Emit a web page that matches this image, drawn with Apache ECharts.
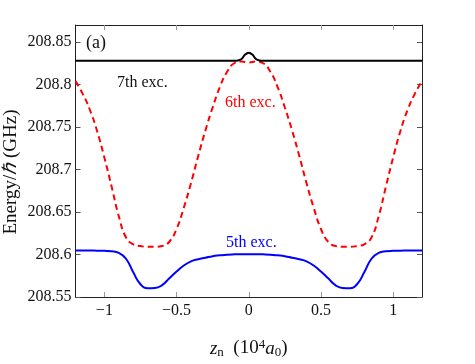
<!DOCTYPE html>
<html>
<head>
<meta charset="utf-8">
<script src="https://cdn.jsdelivr.net/npm/echarts@6/dist/echarts.min.js"></script>
<style>
  html, body { margin: 0; padding: 0; background: #fff; }
  #chart { width: 475px; height: 364px; }
</style>
</head>
<body>
<div id="chart"></div>
<script>
// 横轴 z_n (10^4 a0)
var xs = [-1.2, -1.15, -1.1, -1.05, -1.0, -0.95, -0.9, -0.85, -0.8, -0.75, -0.7, -0.65, -0.6, -0.55, -0.5,
  -0.45, -0.4, -0.35, -0.3, -0.25, -0.2, -0.15, -0.1, -0.05, 0, 0.05, 0.1, 0.15, 0.2, 0.25, 0.3, 0.35,
  0.4, 0.45, 0.5, 0.55, 0.6, 0.65, 0.7, 0.75, 0.8, 0.85, 0.9, 0.95, 1.0, 1.05, 1.1, 1.15, 1.2];

// 6th exc. (红色虚线)
var exc6 = [208.804, 208.789, 208.770, 208.745, 208.714, 208.680, 208.645, 208.620, 208.612, 208.610,
  208.609, 208.609, 208.610, 208.615, 208.630, 208.655, 208.684, 208.716, 208.746, 208.773, 208.797,
  208.815, 208.825, 208.827, 208.826, 208.827, 208.825, 208.815, 208.797, 208.773, 208.746, 208.716,
  208.684, 208.655, 208.630, 208.615, 208.610, 208.609, 208.609, 208.610, 208.612, 208.620, 208.645,
  208.680, 208.714, 208.745, 208.770, 208.789, 208.804];

// 5th exc. (蓝色实线)
var exc5 = [208.6047, 208.6047, 208.6046, 208.6045, 208.6043, 208.6038, 208.602, 208.595, 208.579,
  208.565, 208.5603, 208.5605, 208.564, 208.572, 208.580, 208.587, 208.592, 208.5945, 208.5962, 208.598,
  208.599, 208.5998, 208.6002, 208.6004, 208.6004, 208.6004, 208.6002, 208.5998, 208.599, 208.598,
  208.5962, 208.5945, 208.592, 208.587, 208.580, 208.572, 208.564, 208.5605, 208.5603, 208.565, 208.579,
  208.595, 208.602, 208.6038, 208.6043, 208.6045, 208.6046, 208.6047, 208.6047];

// 7th exc. (黑色实线, 中间有小凸起)
var xs7 = [-1.2, -0.1, -0.075, -0.05, -0.025, 0, 0.025, 0.05, 0.075, 0.1, 1.2];
var exc7 = [208.828, 208.828, 208.8283, 208.830, 208.8352, 208.8375, 208.8352, 208.830, 208.8283, 208.828, 208.828];

// 刻度
var xTicks = [-1, -0.5, 0, 0.5, 1];
var yTicks = [208.55, 208.6, 208.65, 208.7, 208.75, 208.8, 208.85];

function pairs(x, y) {
  var out = [];
  for (var i = 0; i < x.length; i++) out.push([x[i], y[i]]);
  return out;
}

var serif = 'Liberation Serif';
var chart = echarts.init(document.getElementById('chart'));

var baseX = {
  type: 'value', min: -1.2, max: 1.2,
  axisLine: { show: true, onZero: false, lineStyle: { color: '#222', width: 1 } },
  axisTick: { show: true, inside: true, length: 5, customValues: xTicks, lineStyle: { color: '#999' } },
  splitLine: { show: false }
};
var baseY = {
  type: 'value', min: 208.55, max: 208.87,
  axisLine: { show: true, onZero: false, lineStyle: { color: '#222', width: 1 } },
  axisTick: { show: true, inside: true, length: 5, customValues: yTicks, lineStyle: { color: '#555' } },
  splitLine: { show: false }
};

var option = {
  animation: false,
  backgroundColor: '#fff',
  grid: { left: 75.5, right: 53, top: 25, bottom: 65 },
  xAxis: [
    Object.assign({}, baseX, {
      position: 'bottom',
      axisLabel: { customValues: xTicks, color: '#111', fontFamily: serif, fontSize: 16, margin: 6,
        formatter: function (v) { return v < 0 ? '\u2212' + Math.abs(v) : String(v); } },
      name: '{i|z}{sub|n}  {r|(10}{sup|4}{i|a}{sub|0}{r|)}',
      nameLocation: 'middle', nameGap: 41,
      nameTextStyle: {
        fontFamily: serif, fontSize: 19, color: '#111',
        rich: {
          i: { fontFamily: serif, fontSize: 19, fontStyle: 'italic', color: '#111' },
          r: { fontFamily: serif, fontSize: 19, color: '#111' },
          sub: { fontFamily: serif, fontSize: 13, color: '#111', verticalAlign: 'bottom', padding: [8, 0, 0, 0] },
          sup: { fontFamily: serif, fontSize: 13, color: '#111', verticalAlign: 'top', padding: [0, 0, 8, 0] }
        }
      }
    }),
    Object.assign({}, baseX, { position: 'top', axisLabel: { show: false } })
  ],
  yAxis: [
    Object.assign({}, baseY, {
      position: 'left',
      axisLabel: { customValues: yTicks, color: '#111', fontFamily: serif, fontSize: 16, margin: 4,
        formatter: function (v) { return String(parseFloat(v.toFixed(2))); } }
    }),
    Object.assign({}, baseY, { position: 'right', axisLabel: { show: false } })
  ],
  series: [
    {
      name: '7th exc.', type: 'line', data: pairs(xs7, exc7), smooth: 0.4, showSymbol: false,
      lineStyle: { color: '#000', width: 2 }, z: 3
    },
    {
      name: '6th exc.', type: 'line', data: pairs(xs, exc6), smooth: true, showSymbol: false,
      lineStyle: { color: '#ff0000', width: 2, type: [6, 4] }, z: 2
    },
    {
      name: '5th exc.', type: 'line', data: pairs(xs, exc5), smooth: true, showSymbol: false,
      lineStyle: { color: '#0000ff', width: 2 }, z: 2
    }
  ],
  graphic: [
    {
      type: 'text', x: 11, y: 172, rotation: Math.PI / 2,
      style: {
        text: 'Energy/{i|\u210F} (GHz)', fill: '#111', font: '19px "Liberation Serif"',
        align: 'center', verticalAlign: 'middle',
        rich: { i: { fontFamily: serif, fontSize: 19, fontStyle: 'italic', fill: '#111' } }
      }
    },
    { type: 'text', x: 86, y: 43, style: { text: '(a)', font: '18px "Liberation Serif"', fill: '#111', verticalAlign: 'middle' } },
    { type: 'text', x: 117, y: 83, style: { text: '7th exc.', font: '16px "Liberation Serif"', fill: '#111', verticalAlign: 'middle' } },
    { type: 'text', x: 225, y: 103, style: { text: '6th exc.', font: '16px "Liberation Serif"', fill: '#ff0000', verticalAlign: 'middle' } },
    { type: 'text', x: 226, y: 243, style: { text: '5th exc.', font: '16px "Liberation Serif"', fill: '#0000ff', verticalAlign: 'middle' } }
  ]
};

chart.setOption(option);
</script>
</body>
</html>
